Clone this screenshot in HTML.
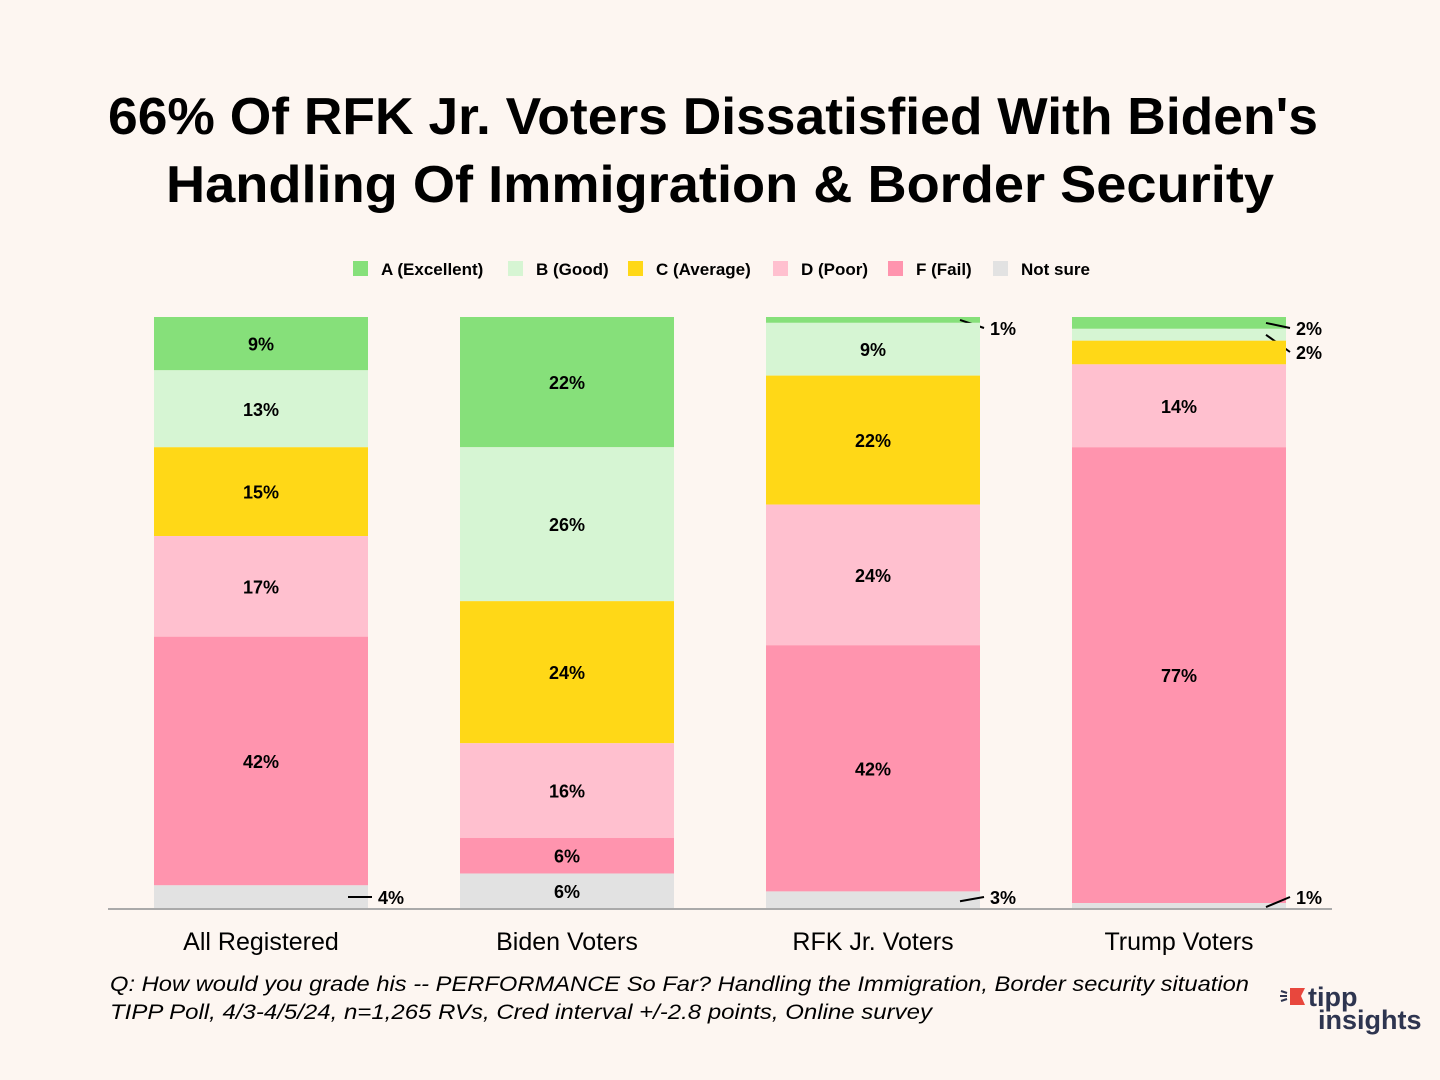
<!DOCTYPE html>
<html><head><meta charset="utf-8">
<style>
html,body{margin:0;padding:0;background:#fdf6f1;}
svg{display:block;font-family:"Liberation Sans","DejaVu Sans",sans-serif;}
</style></head>
<body>
<svg id="chart" width="1440" height="1080" viewBox="0 0 1440 1080">
<rect width="1440" height="1080" fill="#fdf6f1"/>
<text x="108" y="134" textLength="1210" lengthAdjust="spacingAndGlyphs" font-size="52" font-weight="bold" fill="#000">66% Of RFK Jr. Voters Dissatisfied With Biden's</text>
<text x="166" y="202" textLength="1108" lengthAdjust="spacingAndGlyphs" font-size="52" font-weight="bold" fill="#000">Handling Of Immigration &amp; Border Security</text>
<g id="legend"></g>
<g id="bars"></g>
<line x1="108" y1="909" x2="1332" y2="909" stroke="#aaa" stroke-width="2"/>
<g id="xlabels"></g>
<text x="110" y="991" textLength="1139" lengthAdjust="spacingAndGlyphs" font-size="21" font-style="italic" fill="#000">Q:  How would you grade his -- PERFORMANCE So Far? Handling the Immigration, Border security situation</text>
<text x="110" y="1019" textLength="822" lengthAdjust="spacingAndGlyphs" font-size="21" font-style="italic" fill="#000">TIPP Poll, 4/3-4/5/24, n=1,265 RVs, Cred interval +/-2.8 points, Online survey</text>
<g>
  <path d="M1290 988 L1305 988 L1301 996 L1305 1005 L1290 1005 Z" fill="#e8473d"/>
  <line x1="1281" y1="991" x2="1287" y2="993" stroke="#2e3550" stroke-width="2"/>
  <line x1="1280" y1="996" x2="1287" y2="996" stroke="#2e3550" stroke-width="2"/>
  <line x1="1281" y1="1001" x2="1287" y2="999" stroke="#2e3550" stroke-width="2"/>
  <text x="1308" y="1006" font-size="27" font-weight="bold" fill="#2e3550">tipp</text>
  <text x="1318" y="1029" font-size="27" font-weight="bold" fill="#2e3550">insights</text>
</g>
</svg>
<script>
const categories = ["All Registered","Biden Voters","RFK Jr. Voters","Trump Voters"];
const seriesNames = ["A (Excellent)","B (Good)","C (Average)","D (Poor)","F (Fail)","Not sure"];
const seriesColors = ["#86e07a","#d6f5d3","#ffd817","#ffc0cf","#ff94ae","#e2e2e2"];
const valsA = [9,22,1,2];
const valsB = [13,26,9,2];
const valsC = [15,24,22,4];
const valsD = [17,16,24,14];
const valsF = [42,6,42,77];
const valsNS = [4,6,3,1];
const hiddenLabels = [[3,2]];

const NS="http://www.w3.org/2000/svg";
const series=[valsA,valsB,valsC,valsD,valsF,valsNS];
const plotTop=317, plotBottom=909, barW=214, firstX=154, step=306;
function xPos(i){return firstX+i*step;}
function mk(tag,attrs,parent){const e=document.createElementNS(NS,tag);for(const k in attrs)e.setAttribute(k,attrs[k]);parent.appendChild(e);return e;}

const lg=document.getElementById('legend');
const legX=[353,508,628,773,888,993];
seriesNames.forEach((n,i)=>{
  const g=mk('g',{},lg);
  
  
  mk('rect',{x:legX[i],y:261,width:15,height:15,fill:seriesColors[i]},g);
  const t=mk('text',{x:legX[i]+28,y:275,'font-size':17,'font-weight':'bold',fill:'#000'},g);
  t.textContent=n;
});

const bars=document.getElementById('bars');
const xl=document.getElementById('xlabels');
categories.forEach((c,ci)=>{
  const vals=series.map(s=>s[ci]);
  const total=vals.reduce((a,b)=>a+b,0);
  const scale=(plotBottom-plotTop)/total;
  let y=plotTop;
  let lastLabelY=-100;
  const x=xPos(ci);
  vals.forEach((v,si)=>{
    const h=v*scale;
    const r=mk('rect',{x:x,y:y,width:barW,height:h,fill:seriesColors[si]},bars);
    
    
    const mid=y+h/2;
    const hidden=hiddenLabels.some(p=>p[0]===ci&&p[1]===si);
    if(!hidden){
      if(v>=5){
        const t=mk('text',{x:x+barW/2,y:mid+7,'text-anchor':'middle','font-size':18,'font-weight':'bold',fill:'#000'},bars);
        
        
        t.textContent=v+'%';
      } else {
        let ly;
        if(mid<600){ly=Math.max(mid+5,328); if(ly<lastLabelY+22) ly=lastLabelY+24;}
        else ly=897;
        lastLabelY=ly;
        const bottom=mid>600;
        const ln=mk('line',{x1:x+barW-20,y1:bottom?(ci===0?ly:mid+1):mid,x2:x+barW+4,y2:ly,stroke:'#000','stroke-width':2},bars);
        
        
        const t=mk('text',{x:x+barW+10,y:ly+7,'font-size':18,'font-weight':'bold',fill:'#000'},bars);
        
        
        t.textContent=v+'%';
      }
    }
    y+=h;
  });
  const t=mk('text',{x:x+barW/2,y:950,'text-anchor':'middle','font-size':25,fill:'#000'},xl);
  
  
  t.textContent=c;
});
</script>
</body></html>
